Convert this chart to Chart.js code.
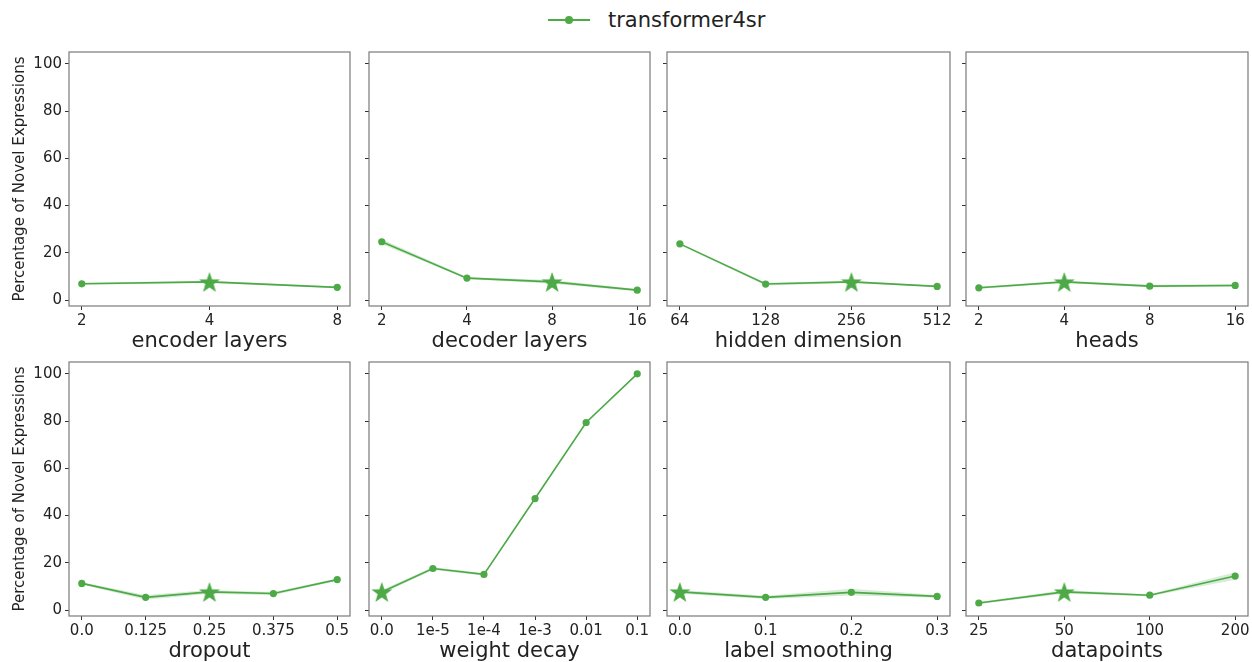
<!DOCTYPE html>
<html>
<head>
<meta charset="utf-8">
<script src="https://cdn.jsdelivr.net/npm/chart.js@4.4.1/dist/chart.umd.min.js"></script>
<style>
  html, body { margin: 0; padding: 0; background: #fff; }
  body { width: 1252px; height: 662px; position: relative; overflow: hidden; font-family: "DejaVu Sans", sans-serif; }
  canvas { position: absolute; }
  #legend { position: absolute; left: 548px; top: 6px; height: 28px; display: flex; align-items: center; }
  #legend .mark { position: relative; width: 42px; height: 2px; background: #4daa47; }
  #legend .mark::after { content: ""; position: absolute; left: 17px; top: -3px; width: 8px; height: 8px; border-radius: 50%; background: #4daa47; }
  #legend .txt { margin-left: 18px; font-size: 21px; color: #222; }
</style>
</head>
<body>
<div id="legend"><span class="mark"></span><span class="txt">transformer4sr</span></div>

<script>
// values (percent of novel expressions)
const encoderLabels = ["2", "4", "8"];
const encoderValues = [6.9, 7.7, 5.4];
const encoderLow = [6.5, 7.2, 5.1];
const encoderHigh = [7.3, 8.2, 5.8];

const decoderLabels = ["2", "4", "8", "16"];
const decoderValues = [24.7, 9.3, 7.7, 4.2];
const decoderLow = [23.6, 8.9, 6.9, 3.7];
const decoderHigh = [25.8, 9.8, 8.5, 4.7];

const hiddenLabels = ["64", "128", "256", "512"];
const hiddenValues = [23.8, 6.8, 7.7, 5.8];
const hiddenLow = [23.4, 6.2, 7.2, 5.5];
const hiddenHigh = [24.2, 7.3, 8.2, 6.1];

const headsLabels = ["2", "4", "8", "16"];
const headsValues = [5.2, 7.7, 5.9, 6.2];
const headsLow = [4.7, 7.2, 5.4, 5.6];
const headsHigh = [5.7, 8.2, 6.5, 6.8];

const dropoutLabels = ["0.0", "0.125", "0.25", "0.375", "0.5"];
const dropoutValues = [11.3, 5.4, 7.7, 7.0, 12.9];
const dropoutLow = [10.8, 4.4, 6.9, 6.3, 12.4];
const dropoutHigh = [11.8, 6.4, 8.5, 7.7, 13.4];

const decayLabels = ["0.0", "1e-5", "1e-4", "1e-3", "0.01", "0.1"];
const decayValues = [7.7, 17.6, 15.1, 47.2, 79.4, 100];
const decayLow = [6.9, 17.0, 14.6, 46.8, 79.1, 99.8];
const decayHigh = [8.5, 18.2, 15.6, 47.6, 79.7, 100.2];

const smoothingLabels = ["0.0", "0.1", "0.2", "0.3"];
const smoothingValues = [7.7, 5.4, 7.5, 5.8];
const smoothingLow = [6.9, 4.7, 6.2, 5.2];
const smoothingHigh = [8.5, 6.1, 9.0, 6.4];

const datapointsLabels = ["25", "50", "100", "200"];
const datapointsValues = [3.0, 7.7, 6.3, 14.4];
const datapointsLow = [2.6, 6.9, 5.9, 12.8];
const datapointsHigh = [3.4, 8.5, 6.7, 16.0];

const yTickValues = [0, 20, 40, 60, 80, 100];

const panels = [
  { title: "encoder layers", labels: encoderLabels, values: encoderValues, low: encoderLow, high: encoderHigh, star: 1 },
  { title: "decoder layers", labels: decoderLabels, values: decoderValues, low: decoderLow, high: decoderHigh, star: 2 },
  { title: "hidden dimension", labels: hiddenLabels, values: hiddenValues, low: hiddenLow, high: hiddenHigh, star: 2 },
  { title: "heads", labels: headsLabels, values: headsValues, low: headsLow, high: headsHigh, star: 1 },
  { title: "dropout", labels: dropoutLabels, values: dropoutValues, low: dropoutLow, high: dropoutHigh, star: 2 },
  { title: "weight decay", labels: decayLabels, values: decayValues, low: decayLow, high: decayHigh, star: 0 },
  { title: "label smoothing", labels: smoothingLabels, values: smoothingValues, low: smoothingLow, high: smoothingHigh, star: 0 },
  { title: "datapoints", labels: datapointsLabels, values: datapointsValues, low: datapointsLow, high: datapointsHigh, star: 1 }
];

const GREEN = "#4daa47";
const BAND = "rgba(77,170,71,0.22)";
const TEXT = "#222";

// plot-area boxes in page pixels
const colLeft = [69, 369, 667, 966];
const colRight = [351, 651, 951, 1249];
const rowTop = [52, 362];
const rowBottom = [306, 616];

const PAD_TOP = 16;
const PAD_RIGHT = 3;
const X_AXIS_H = 48;

function makeStar(size) {
  const c = document.createElement("canvas");
  c.width = size;
  c.height = size;
  const g = c.getContext("2d");
  const cx = size / 2, cy = size / 2 + 1;
  const outer = size / 2, inner = outer * 0.4;
  g.beginPath();
  for (let i = 0; i < 10; i++) {
    const r = i % 2 === 0 ? outer : inner;
    const a = -Math.PI / 2 + i * Math.PI / 5;
    const x = cx + r * Math.cos(a);
    const y = cy + r * Math.sin(a);
    if (i === 0) g.moveTo(x, y); else g.lineTo(x, y);
  }
  g.closePath();
  g.fillStyle = GREEN;
  g.fill();
  return c;
}

const starImg = makeStar(22);

const framePlugin = {
  id: "frame",
  afterDatasetsDraw(chart) {
    const { ctx, chartArea: a } = chart;
    ctx.save();
    ctx.strokeStyle = "#7a7a7a";
    ctx.lineWidth = 1.2;
    ctx.strokeRect(a.left, a.top, a.right - a.left, a.bottom - a.top);
    ctx.restore();
  }
};

function makePanel(p, idx) {
  const col = idx % 4;
  const row = Math.floor(idx / 4);
  const yW = col === 0 ? colLeft[0] : 10;
  const left = colLeft[col] - yW;
  const width = yW + (colRight[col] - colLeft[col]) + PAD_RIGHT;
  const top = rowTop[row] - PAD_TOP;
  const height = PAD_TOP + (rowBottom[row] - rowTop[row]) + X_AXIS_H;

  const canvas = document.createElement("canvas");
  canvas.width = width;
  canvas.height = height;
  canvas.style.left = left + "px";
  canvas.style.top = top + "px";
  canvas.style.width = width + "px";
  canvas.style.height = height + "px";
  document.body.appendChild(canvas);

  const n = p.labels.length;
  const idxs = p.labels.map((_, i) => i);
  const pts = (arr) => arr.map((v, i) => ({ x: i, y: v }));

  new Chart(canvas, {
    type: "line",
    data: {
      datasets: [
        { data: pts(p.low), borderWidth: 0, pointRadius: 0, fill: false, backgroundColor: BAND },
        { data: pts(p.high), borderWidth: 0, pointRadius: 0, fill: "-1", backgroundColor: BAND },
        {
          data: pts(p.values),
          borderColor: GREEN,
          backgroundColor: GREEN,
          borderWidth: 1.6,
          fill: false,
          tension: 0,
          pointStyle: (ctx) => (ctx.dataIndex === p.star ? starImg : "circle"),
          pointRadius: 3.6,
          pointBorderWidth: 0
        }
      ]
    },
    plugins: [framePlugin],
    options: {
      responsive: false,
      animation: false,
      events: [],
      layout: { padding: { top: PAD_TOP, right: PAD_RIGHT, left: 0, bottom: 0 } },
      plugins: { legend: { display: false }, tooltip: { enabled: false } },
      scales: {
        x: {
          type: "linear",
          min: -0.05 * (n - 1),
          max: 1.05 * (n - 1),
          afterBuildTicks: (scale) => { scale.ticks = idxs.map((v) => ({ value: v })); },
          afterFit: (scale) => { scale.height = X_AXIS_H; },
          grid: { drawOnChartArea: false, drawTicks: true, tickLength: 4, color: "#333" },
          border: { display: false },
          ticks: {
            autoSkip: false,
            maxRotation: 0,
            minRotation: 0,
            padding: 2,
            color: TEXT,
            font: { family: "DejaVu Sans", size: 15 },
            callback: (v) => p.labels[v]
          },
          title: {
            display: true,
            text: p.title,
            color: TEXT,
            font: { family: "DejaVu Sans", size: 21 },
            padding: { top: 0, bottom: 0 }
          }
        },
        y: {
          min: -2.5,
          max: 105,
          afterBuildTicks: (scale) => { scale.ticks = yTickValues.map((v) => ({ value: v })); },
          afterFit: (scale) => { scale.width = yW; },
          grid: { drawOnChartArea: false, drawTicks: true, tickLength: 4, color: "#333" },
          border: { display: false },
          ticks: {
            display: col === 0,
            padding: 3,
            color: TEXT,
            font: { family: "DejaVu Sans", size: 15 }
          },
          title: {
            display: col === 0,
            text: "Percentage of Novel Expressions",
            color: TEXT,
            font: { family: "DejaVu Sans", size: 15 },
            padding: { top: 11, bottom: 0 }
          }
        }
      }
    }
  });
}

panels.forEach(makePanel);
</script>
</body>
</html>
